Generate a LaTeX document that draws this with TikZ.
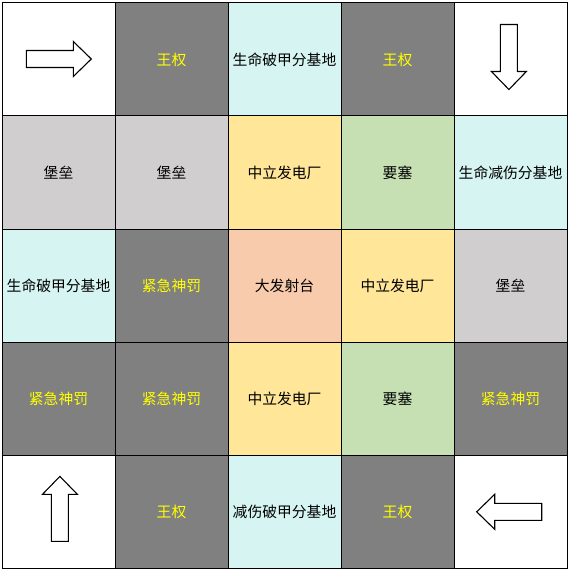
\documentclass[tikz,border=0pt]{standalone}
\usepackage{fontspec}
\usetikzlibrary{calc}
\newfontfamily\cjk{Noto Sans CJK SC}
\definecolor{cgray}{HTML}{808080}
\definecolor{ccyan}{HTML}{D5F4F2}
\definecolor{clgray}{HTML}{D0CECE}
\definecolor{cyellow}{HTML}{FFE699}
\definecolor{cgreen}{HTML}{C6E0B4}
\definecolor{corange}{HTML}{F8CBAD}
\definecolor{ctext}{HTML}{FFFF00}
\tikzset{
  cell/.style={draw=black, line width=1pt, minimum size=113pt, inner sep=0pt, anchor=center, font=\cjk\fontsize{14.8}{16}\selectfont},
  wangquan/.style={cell, fill=cgray, text=ctext},
  shenfa/.style={cell, fill=cgray, text=ctext},
  base/.style={cell, fill=ccyan},
  fort/.style={cell, fill=clgray},
  power/.style={cell, fill=cyellow},
  fortress/.style={cell, fill=cgreen},
  launch/.style={cell, fill=corange},
  blank/.style={cell, fill=white},
  arrowline/.style={draw=black, line width=1.1pt, fill=white, line join=miter},
  bigarrow/.pic={\path[arrowline] (-32.5,-8.5) -- (14.5,-8.5) -- (14.5,-17.5) -- (32.5,0) -- (14.5,17.5) -- (14.5,8.5) -- (-32.5,8.5) -- cycle;}
}
\begin{document}
\begin{tikzpicture}[x=1pt,y=-1pt]
\useasboundingbox[fill=white] (0,0) rectangle (574,575);
% row 0
\node[blank]    (r0c0) at (58.5,59.5) {};
\node[wangquan] (r0c1) at (171.5,59.5) {王权};
\node[base]     (r0c2) at (284.5,59.5) {生命破甲分基地};
\node[wangquan] (r0c3) at (397.5,59.5) {王权};
\node[blank]    (r0c4) at (510.5,59.5) {};
% row 1
\node[fort]     (r1c0) at (58.5,172.5) {堡垒};
\node[fort]     (r1c1) at (171.5,172.5) {堡垒};
\node[power]    (r1c2) at (284.5,172.5) {中立发电厂};
\node[fortress] (r1c3) at (397.5,172.5) {要塞};
\node[base]     (r1c4) at (510.5,172.5) {生命减伤分基地};
% row 2
\node[base]     (r2c0) at (58.5,285.5) {生命破甲分基地};
\node[shenfa]   (r2c1) at (171.5,285.5) {紧急神罚};
\node[launch]   (r2c2) at (284.5,285.5) {大发射台};
\node[power]    (r2c3) at (397.5,285.5) {中立发电厂};
\node[fort]     (r2c4) at (510.5,285.5) {堡垒};
% row 3
\node[shenfa]   (r3c0) at (58.5,398.5) {紧急神罚};
\node[shenfa]   (r3c1) at (171.5,398.5) {紧急神罚};
\node[power]    (r3c2) at (284.5,398.5) {中立发电厂};
\node[fortress] (r3c3) at (397.5,398.5) {要塞};
\node[shenfa]   (r3c4) at (510.5,398.5) {紧急神罚};
% row 4
\node[blank]    (r4c0) at (58.5,511.5) {};
\node[wangquan] (r4c1) at (171.5,511.5) {王权};
\node[base]     (r4c2) at (284.5,511.5) {减伤破甲分基地};
\node[wangquan] (r4c3) at (397.5,511.5) {王权};
\node[blank]    (r4c4) at (510.5,511.5) {};
% arrows
\pic at ($(r0c0.center)+(0.3,-0.5)$) {bigarrow};
\pic[rotate=-90] at ($(r0c4.center)+(-1.6,-2.5)$) {bigarrow};
\pic[rotate=90] at ($(r4c0.center)+(1.4,-2.6)$) {bigarrow};
\pic[rotate=180] at ($(r4c4.center)+(-1.3,0.3)$) {bigarrow};
\end{tikzpicture}
\end{document}
